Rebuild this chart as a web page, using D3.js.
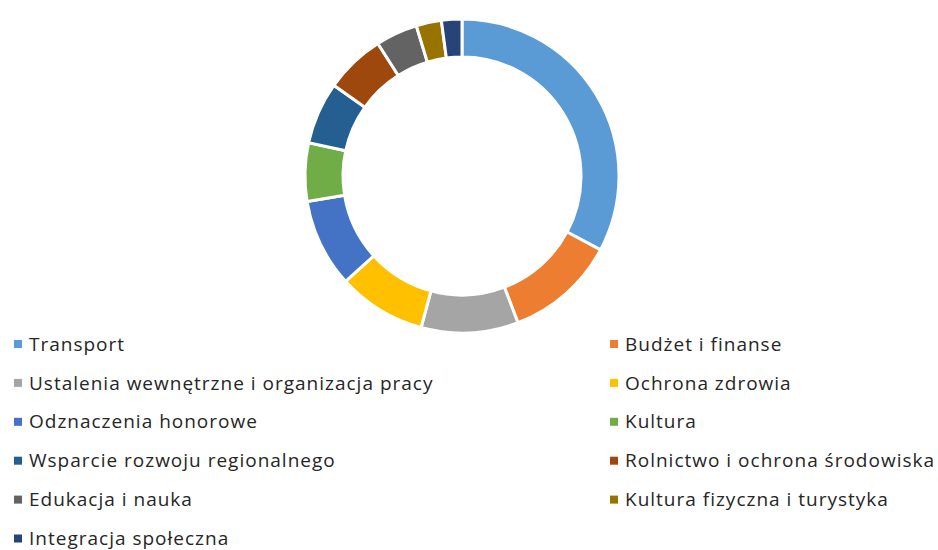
<!DOCTYPE html>
<html>
<head>
<meta charset="utf-8">
<script src="https://cdn.jsdelivr.net/npm/d3@7"></script>
<style>
body { margin: 0; background: #fff; }
text { font-family: "Open Sans", sans-serif; }
</style>
</head>
<body>
<svg class="chart" width="938" height="550"></svg>
<script>
var categories = ["Transport", "Budżet i finanse", "Ustalenia wewnętrzne i organizacja pracy", "Ochrona zdrowia",
	"Odznaczenia honorowe", "Kultura", "Wsparcie rozwoju regionalnego", "Rolnictwo i ochrona środowiska",
	"Edukacja i nauka", "Kultura fizyczna i turystyka", "Integracja społeczna"];
var values = [32.8, 11.4, 10.0, 9.1, 9.1, 6.0, 6.4, 6.2, 4.3, 2.6, 2.1];
var colors = ["#5B9BD5", "#ED7D31", "#A5A5A5", "#FFC000", "#4472C4", "#70AD47", "#255E91", "#9E480E", "#636363", "#997300", "#264478"];

var svg = d3.select(".chart");
var cx = 462, cy = 176;
var outerR = 157, innerR = 119;

var data = categories.map(function(c, i){ return {name: c, value: values[i], color: colors[i]}; });

var pie = d3.pie().sort(null).value(function(d){ return d.value; });
var arc = d3.arc().innerRadius(innerR).outerRadius(outerR);

svg.append("g")
	.attr("transform", "translate(" + cx + "," + cy + ")")
	.selectAll("path")
	.data(pie(data))
	.enter()
	.append("path")
	.attr("d", arc)
	.style("fill", function(d){ return d.data.color; })
	.style("stroke", "#fff")
	.style("stroke-width", 3);

// legend, two columns filled row by row
var colX = [14, 610];
var rowY = 344, rowStep = 38.9;

var legend = svg.selectAll(".leg")
	.data(data)
	.enter()
	.append("g")
	.attr("class", "leg")
	.attr("transform", function(d, i){
		return "translate(" + colX[i % 2] + "," + (rowY + rowStep * Math.floor(i / 2)) + ")";
	});

legend.append("rect")
	.attr("x", 0)
	.attr("y", -4)
	.attr("width", 8)
	.attr("height", 8)
	.style("fill", function(d){ return d.color; });

legend.append("text")
	.attr("x", 15)
	.attr("y", 0)
	.attr("dy", "0.35em")
	.style("font-size", "19px")
	.style("letter-spacing", "1px")
	.style("fill", "#262626")
	.text(function(d){ return d.name; });
</script>
</body>
</html>
